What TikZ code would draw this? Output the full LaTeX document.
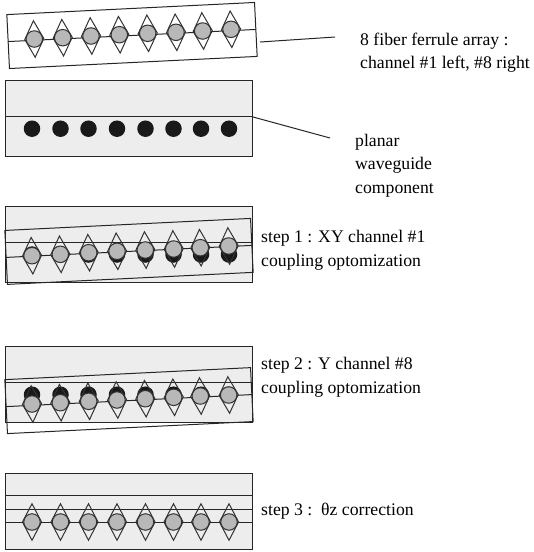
\documentclass[tikz,border=0pt]{standalone}
\usepackage{fontspec}
\setmainfont{Liberation Serif}
\usetikzlibrary{shapes.geometric}
\tikzset{
  plate/.style={draw=black!85, fill=black!7, line width=1pt, minimum width=247pt, minimum height=76pt, inner sep=0pt, outer sep=0pt},
  ferrule/.style={draw=black!85, line width=1pt, minimum width=246pt, minimum height=54pt, inner sep=0pt, outer sep=0pt, rotate=2.8},
  core/.style={circle, fill=black!90, minimum size=16.5pt, inner sep=0pt},
  fiber/.style={circle, draw=black!80, fill=black!28, line width=1pt, minimum size=16.5pt, inner sep=0pt},
  vgroove/.style={diamond, draw=black!80, line width=1pt, minimum width=19.5pt, minimum height=37pt, inner sep=0pt, aspect=.5},
  guide/.style={draw=black!85, line width=1pt},
  leader/.style={draw=black!85, line width=1pt},
  label/.style={anchor=west, align=left, inner sep=0pt, font=\fontsize{17.7}{23.5}\selectfont}
}
\begin{document}
\begin{tikzpicture}[x=1pt,y=-1pt]
\useasboundingbox (0,0) rectangle (534,552);

% fiber array alone
\node[ferrule, minimum width=248pt] (arr) at (132,35.5) {};
\draw[guide] (arr.west) -- (arr.east);
\foreach \n/\px/\py in {1/34.3/39,2/62.7/37.7,3/91/36,4/119.3/34.7,5/147.7/33.3,6/176/32.3,7/202.7/31,8/231/29.3} {
  \node[fiber] (a\n) at (\px,\py) {};
  \node[vgroove, rotate=2.8] (av\n) at (\px,\py) {};
}

% waveguide component
\node[plate] (wg) at (128.5,118) {};
\draw[guide] (wg.west |- 0,116.7) coordinate (wgl) -- (wg.east |- 0,116.7) coordinate (wgr);
\foreach \n/\px in {1/32,2/60.5,3/88.5,4/117,5/145.5,6/173.5,7/201,8/229} {
  \node[core] (w\n) at (\px,128.7) {};
}

% step 1
\node[plate] (pa) at (128.5,244) {};
\draw[guide] (pa.west |- 0,242.3) -- (pa.east |- 0,242.3);
\foreach \n/\px in {1/32,2/60.5,3/88.5,4/117,5/145.5,6/173.5,7/201,8/229} {
  \node[core] (pc\n) at (\px,254.5) {};
}
\node[ferrule] (fa) at (129,251.4) {};
\draw[guide] (fa.west) -- (fa.east);
\foreach \n/\px/\py in {1/32/255.7,2/60.3/254.3,3/88.7/252.7,4/117/251.3,5/145.3/250,6/173.7/249,7/200.3/247.7,8/228.7/246} {
  \node[fiber] (pf\n) at (\px,\py) {};
  \node[vgroove, rotate=2.8] (pv\n) at (\px,\py) {};
}

% step 2
\node[plate] (pb) at (128.5,384.5) {};
\draw[guide] (pb.west |- 0,382.7) -- (pb.east |- 0,382.7);
\foreach \n/\px in {1/32,2/60.5,3/88.5,4/117,5/145.5,6/173.5,7/201,8/229} {
  \node[core] (qc\n) at (\px,394.7) {};
}
\node[ferrule] (fb) at (129,400.6) {};
\draw[guide] (fb.west) -- (fb.east);
\foreach \n/\px/\py in {1/32/404,2/60.3/402.7,3/88.7/401.3,4/117/400,5/145.3/398.7,6/173.7/397.3,7/200.3/396,8/228.7/395} {
  \node[fiber] (qf\n) at (\px,\py) {};
  \node[vgroove, rotate=2.8] (qv\n) at (\px,\py) {};
}

% step 3
\node[plate] (pc) at (128.5,511) {};
\coordinate (tl) at (pc.west |- 0,495.7);
\coordinate (tr) at (pc.east |- 0,495.7);
\coordinate (ml) at (pc.west |- 0,509.3);
\coordinate (mr) at (pc.east |- 0,509.3);
\coordinate (bl) at (pc.west |- 0,522);
\coordinate (br) at (pc.east |- 0,522);
\draw[guide] (tl) -- (tr);
\draw[guide] (ml) -- (mr);
\draw[guide] (bl) -- (br);
\foreach \n/\px in {1/32,2/60.5,3/88.5,4/117,5/145.5,6/173.5,7/201,8/229} {
  \node[fiber] (rf\n) at (\px,522) {};
  \node[vgroove] (rv\n) at (\px,522) {};
}

% labels
\node[label] (larr) at (360,52.5) {8 fiber ferrule array :\\channel \#1 left, \#8 right};
\node[label] (lwg) at (355,165.5) {planar\\waveguide\\component};
\node[label] (lstepa) at (261,250.5) {step 1 : XY channel \#1\\coupling optomization};
\node[label] (lstepb) at (261,377.5) {step 2 : Y channel \#8\\coupling optomization};
\node[label] (lstepc) at (261,511) {step 3 :\hspace{.5em}θz correction};

\coordinate (ea) at (260,42);
\coordinate (eb) at (335,37);
\coordinate (ec) at (330,138);
\draw[leader] (ea) -- (eb);
\draw[leader] (wgr) -- (ec);
\end{tikzpicture}
\end{document}
